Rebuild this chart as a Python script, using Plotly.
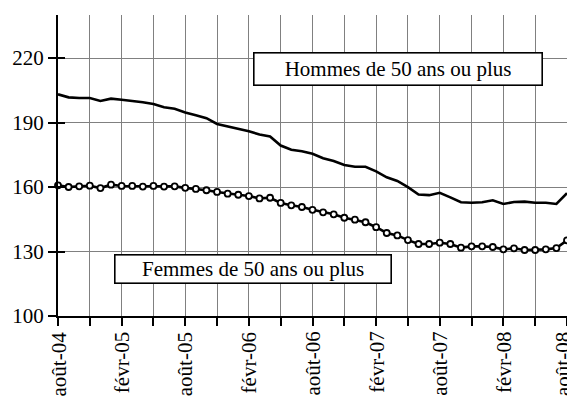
import plotly.graph_objects as go

# Monthly categories, août 2004 .. août 2008
months = []
for y in range(2004, 2009):
    for m in range(1, 13):
        if (y == 2004 and m < 8) or (y == 2008 and m > 8):
            continue
        months.append(f"{y}-{m:02d}")

tick_label_map = {
    "2004-08": "août-04", "2005-02": "févr-05", "2005-08": "août-05",
    "2006-02": "févr-06", "2006-08": "août-06", "2007-02": "févr-07",
    "2007-08": "août-07", "2008-02": "févr-08", "2008-08": "août-08",
}

hommes = [203.1, 201.7, 201.4, 201.4, 200.0, 201.1, 200.6, 200.1, 199.4, 198.6,
          197.1, 196.4, 194.7, 193.4, 192.0, 189.3, 188.2, 187.2, 185.9, 184.4,
          183.5, 179.3, 177.3, 176.6, 175.5, 173.4, 172.1, 170.2, 169.4, 169.4,
          167.3, 164.5, 162.8, 159.9, 156.5, 156.2, 157.3, 155.2, 152.9, 152.7,
          152.9, 153.8, 152.1, 153.0, 153.2, 152.7, 152.7, 152.1, 157.1]

femmes = [160.8, 160.0, 160.3, 160.6, 159.5, 161.1, 160.5, 160.5, 160.2, 160.5,
          160.2, 160.3, 159.6, 159.1, 158.5, 157.7, 156.9, 156.4, 155.8, 154.7,
          155.0, 152.6, 151.5, 150.7, 149.4, 148.2, 147.3, 145.7, 144.8, 143.6,
          141.3, 138.6, 137.5, 135.3, 133.5, 133.5, 134.1, 133.5, 131.8, 132.4,
          132.4, 132.1, 131.0, 131.5, 130.7, 130.7, 131.0, 131.6, 135.2]

y_ticks = [100, 130, 160, 190, 220]

tickvals = months[::3]

FONT = "Liberation Serif"

fig = go.Figure()
fig.add_trace(go.Scatter(x=months, y=hommes, mode="lines",
                         line=dict(color="black", width=2.6),
                         cliponaxis=False, showlegend=False))
fig.add_trace(go.Scatter(x=months, y=femmes, mode="lines+markers",
                         line=dict(color="black", width=2.6),
                         marker=dict(symbol="circle", size=6, color="white",
                                     line=dict(color="black", width=1.8)),
                         cliponaxis=False, showlegend=False))

# page body has an 8px margin, so the figure is sized to fit the window
fig.update_layout(
    width=567, height=392,
    margin=dict(l=50, r=8, t=7, b=84),
    paper_bgcolor="white", plot_bgcolor="white",
    font=dict(family=FONT, size=21, color="black"),
    xaxis=dict(type="category", categoryorder="array", categoryarray=months,
               range=[0, len(months) - 1], automargin=False,
               tickmode="array", tickvals=tickvals, showticklabels=False,
               ticks="outside", ticklen=8, tickwidth=2,
               tickcolor="black", showline=True, linecolor="black", linewidth=2,
               showgrid=True, gridcolor="#808080", gridwidth=1,
               zeroline=False),
    yaxis=dict(range=[100, 240], tickmode="array", tickvals=y_ticks,
               automargin=False,
               ticks="outside", ticklen=8, tickwidth=2, tickcolor="black",
               showline=True, linecolor="black", linewidth=2,
               showgrid=True, gridcolor="#808080", gridwidth=1,
               zeroline=False, tickfont=dict(family=FONT, size=21)),
    yaxis2=dict(range=[100, 240], overlaying="y", side="left",
                automargin=False,
                tickmode="array", tickvals=y_ticks, showticklabels=False,
                ticks="inside", ticklen=7, tickwidth=2, tickcolor="black",
                showline=False, showgrid=False, zeroline=False),
)

# invisible trace to activate yaxis2 ticks (inside half of crossing ticks)
fig.add_trace(go.Scatter(x=[months[0]], y=[100], yaxis="y2", mode="markers",
                         marker=dict(opacity=0), showlegend=False,
                         hoverinfo="skip"))

# rotated x tick labels (as annotations so the last one stays inside the page)
for m, lab in tick_label_map.items():
    fig.add_annotation(xref="x", yref="paper", x=m, y=0, yshift=-15,
                       xshift=(-4 if m == months[-1] else 0),
                       text=lab, textangle=-90, showarrow=False,
                       xanchor="center", yanchor="top", borderpad=0,
                       font=dict(family=FONT, size=21, color="black"))

fig.add_annotation(xref="paper", yref="paper", x=0.668, y=0.820,
                   xanchor="center", yanchor="middle",
                   text="Hommes de 50 ans ou plus", showarrow=False,
                   width=287, height=31, borderpad=0, bordercolor="black",
                   borderwidth=1.6, bgcolor="white", align="center",
                   font=dict(family=FONT, size=21, color="black"))
fig.add_annotation(xref="paper", yref="paper", x=0.383, y=0.157,
                   xanchor="center", yanchor="middle",
                   text="Femmes de 50 ans ou plus", showarrow=False,
                   width=275, height=27, borderpad=0, bordercolor="black",
                   borderwidth=1.6, bgcolor="white", align="center",
                   font=dict(family=FONT, size=21, color="black"))

fig.write_html("out.html")
